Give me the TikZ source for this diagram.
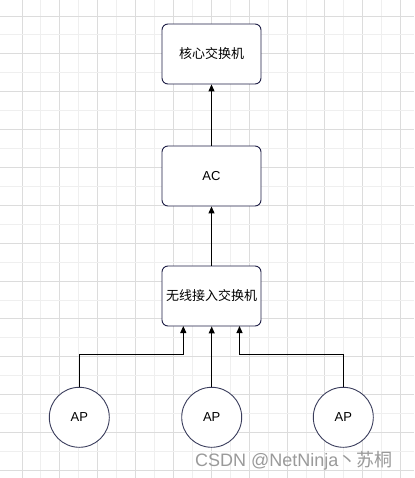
\documentclass[tikz,border=0pt]{standalone}
\usepackage{fontspec}
\setmainfont{Liberation Sans}
\newfontfamily\cjk{Noto Sans CJK SC}
\usetikzlibrary{arrows.meta}
\definecolor{gridlight}{HTML}{EFEFEF}
\definecolor{griddark}{HTML}{DCDCDC}
\definecolor{boxline}{HTML}{1E1E46}
\definecolor{circline}{HTML}{3A3D5C}
\definecolor{wmark}{HTML}{9A9A9A}
\begin{document}
\begin{tikzpicture}[x=1pt,y=-1pt,
  switchbox/.style={draw=boxline,line width=0.9pt,rounded corners=6pt,fill=white,
    minimum width=99pt,minimum height=60pt,inner sep=0pt,font=\fontsize{13}{15}\selectfont},
  apnode/.style={draw=circline,line width=0.9pt,circle,fill=white,minimum size=60pt,inner sep=0pt,
    font=\fontsize{13}{15}\selectfont},
  link/.style={draw=black,line width=1.1pt,-{Triangle[length=7pt,width=6pt]}}]
\useasboundingbox (0,0) rectangle (414,478);
\fill[white] (0,0) rectangle (414,478);
% grid
\foreach \k in {0,...,20}{
  \pgfmathsetmacro{\xx}{22+18.93*\k}
  \pgfmathtruncatemacro{\parity}{mod(\k,2)}
  \ifnum\parity=0
    \draw[griddark,line width=0.9pt] (\xx,0) -- (\xx,478);
  \else
    \draw[gridlight,line width=0.9pt] (\xx,0) -- (\xx,478);
  \fi
}
\foreach \k in {0,...,24}{
  \pgfmathsetmacro{\yy}{16+18.93*\k}
  \pgfmathtruncatemacro{\parity}{mod(\k,2)}
  \ifnum\parity=0
    \draw[griddark,line width=0.9pt] (0,\yy) -- (414,\yy);
  \else
    \draw[gridlight,line width=0.9pt] (0,\yy) -- (414,\yy);
  \fi
}
% nodes
\node[switchbox] (core) at (211.5,54) {\cjk 核心交换机};
\node[switchbox] (ac) at (211.5,176) {AC};
\node[switchbox] (wsw) at (211.5,296) {\cjk 无线接入交换机};
\node[apnode] (ap1) at (79.3,417.3) {AP};
\node[apnode] (ap2) at (211.7,417.3) {AP};
\node[apnode] (ap3) at (343.3,417.3) {AP};
\coordinate (in1) at (183.3,326);
\coordinate (in3) at (239.5,326);
\coordinate (bend1) at (183.3,354.3);
\coordinate (bend3) at (239.5,354.3);
% connectors
\draw[link] (ac.north) -- (core.south);
\draw[link] (wsw.north) -- (ac.south);
\draw[link] (ap1.north) |- (bend1) -- (in1);
\draw[link] (ap2.north) -- (ap2.north |- wsw.south);
\draw[link] (ap3.north) |- (bend3) -- (in3);
% watermark
\node[anchor=base west,text=wmark,inner sep=0pt,font=\fontsize{18}{20}\selectfont] (wm) at (195,466.5) {CSDN @NetNinja{\cjk 丶苏桐}};
\end{tikzpicture}
\end{document}
